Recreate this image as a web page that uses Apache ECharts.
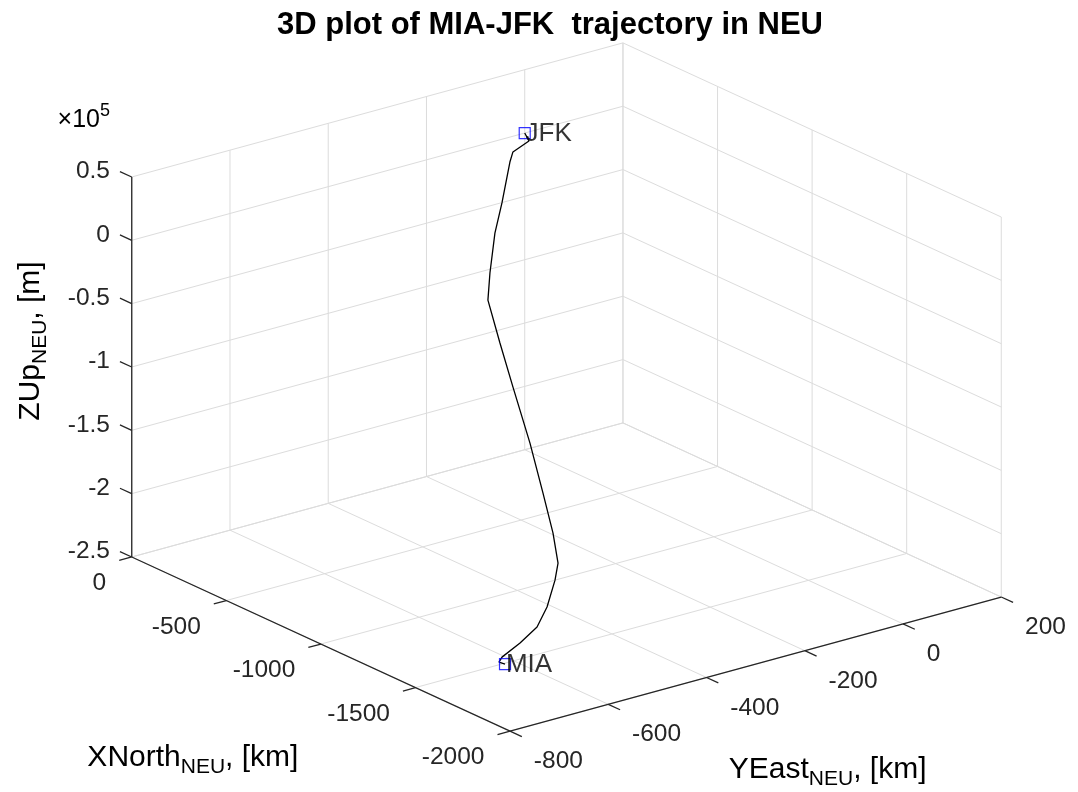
<!DOCTYPE html>
<html>
<head>
<meta charset="utf-8">
<script src="https://cdn.jsdelivr.net/npm/echarts@6/dist/echarts.min.js"></script>
<style>
  html, body { margin: 0; padding: 0; background: #ffffff; }
  #chart { width: 1078px; height: 792px; }
</style>
</head>
<body>
<div id="chart"></div>
<script>
// ---- Axis ticks (North / East in km, Up in units of 1e5 m) ----
const northTicks = [-2000, -1500, -1000, -500, 0];
const eastTicks = [-800, -600, -400, -200, 0, 200];
const upTicks = [-2.5, -2, -1.5, -1, -0.5, 0, 0.5];
const upTickLabels = ['-2.5', '-2', '-1.5', '-1', '-0.5', '0', '0.5'];

// ---- Flight track in the local NEU frame centred on JFK ----
const trackNorth = [-1612.7, -1602.9, -1597.8, -1594.5, -1585.2, -1560.1, -1517.9, -1489.2, -1421.1, -1321.4, -1189.2, -1026.9, -888.9, -743.0, -656.8, -520.0, -409.7, -198.0, -133.0, -70.6, 0];
const trackEast = [-661.1, -669.6, -661.5, -623.5, -585.3, -555.3, -522.8, -505.6, -489.6, -471.6, -447.2, -419.3, -392.7, -361.0, -323.7, -260.9, -204.1, -106.4, -75.2, -18.6, 0];
const trackUp = [-2.384, -2.366, -2.339, -2.270, -2.191, -2.082, -1.933, -1.836, -1.663, -1.435, -1.157, -0.856, -0.631, -0.426, -0.311, -0.156, -0.054, 0.020, 0.022, 0.006, 0];

// ---- Airports ----
const airportNames = ['MIA', 'JFK'];
const airportNorth = [-1612.7, 0];
const airportEast = [-661.1, 0];
const airportUp = [-2.384, 0];

// ---- View settings for the 3D box (orthographic) ----
const VIEW = { azimuth: 127.6, elevation: 20.76, aspect: [1, 1, 0.6555] };
const SCALE = 620;              // pixels per box unit
const CENTER = [566.5, 387];    // pixel position of the box centre
const WIDTH = 1078, HEIGHT = 792;
const TICK_PX = 13;             // tick mark length in pixels
const FONT = '"Liberation Sans", Arial, Helvetica, sans-serif';

const nMin = northTicks[0], nMax = northTicks[northTicks.length - 1];
const eMin = eastTicks[0], eMax = eastTicks[eastTicks.length - 1];
const uMin = upTicks[0], uMax = upTicks[upTicks.length - 1];

const azR = VIEW.azimuth * Math.PI / 180, elR = VIEW.elevation * Math.PI / 180;
const r1 = Math.cos(azR), r2 = Math.sin(azR), se = Math.sin(elR), ce = Math.cos(elR);

// data (north, east, up) -> projected plane (h, v)
function project(n, e, u) {
  const x = ((n - nMin) / (nMax - nMin) - 0.5) * VIEW.aspect[0];
  const y = ((e - eMin) / (eMax - eMin) - 0.5) * VIEW.aspect[1];
  const z = ((u - uMin) / (uMax - uMin) - 0.5) * VIEW.aspect[2];
  return [r1 * x + r2 * y, (r2 * x - r1 * y) * se + z * ce];
}
function axisPixelLength(dn, de, du) {
  const a = project(nMin, eMin, uMin), b = project(nMin + dn, eMin + de, uMin + du);
  return Math.hypot(b[0] - a[0], b[1] - a[1]) * SCALE;
}
// tick offsets expressed in data units so that each tick is TICK_PX long
const tickN = (nMax - nMin) * TICK_PX / axisPixelLength(nMax - nMin, 0, 0);
const tickE = (eMax - eMin) * TICK_PX / axisPixelLength(0, eMax - eMin, 0);

function seg(p, q) { const a = project(...p), b = project(...q); return [a[0], a[1], b[0], b[1]]; }

// ---- Grid lines on the floor and the two back walls ----
const gridSegs = [];
northTicks.forEach(n => gridSegs.push(seg([n, eMin, uMin], [n, eMax, uMin])));
eastTicks.forEach(e => gridSegs.push(seg([nMin, e, uMin], [nMax, e, uMin])));
eastTicks.forEach(e => gridSegs.push(seg([nMax, e, uMin], [nMax, e, uMax])));
upTicks.forEach(u => gridSegs.push(seg([nMax, eMin, u], [nMax, eMax, u])));
northTicks.forEach(n => gridSegs.push(seg([n, eMax, uMin], [n, eMax, uMax])));
upTicks.forEach(u => gridSegs.push(seg([nMin, eMax, u], [nMax, eMax, u])));

// ---- Axis lines and tick marks ----
const axisSegs = [];
axisSegs.push(seg([nMax, eMin, uMin], [nMin, eMin, uMin]));   // North axis
axisSegs.push(seg([nMin, eMin, uMin], [nMin, eMax, uMin]));   // East axis
axisSegs.push(seg([nMax, eMin, uMin], [nMax, eMin, uMax]));   // Up axis
northTicks.forEach(n => axisSegs.push(seg([n, eMin, uMin], [n, eMin - tickE, uMin])));
eastTicks.forEach(e => axisSegs.push(seg([nMin, e, uMin], [nMin - tickN, e, uMin])));
upTicks.forEach(u => axisSegs.push(seg([nMax, eMin, u], [nMax + tickN, eMin, u])));

// ---- Tick labels: [h, v, axis, index] ----
const tickLabelItems = [];
northTicks.forEach((n, i) => { const p = project(n, eMin - tickE, uMin); tickLabelItems.push([p[0], p[1], 0, i]); });
eastTicks.forEach((e, i) => { const p = project(nMin - tickN, e, uMin); tickLabelItems.push([p[0], p[1], 1, i]); });
upTicks.forEach((u, i) => { const p = project(nMax + tickN, eMin, u); tickLabelItems.push([p[0], p[1], 2, i]); });

const TICK_FONT = 24.5;
const tickLabelStyle = [
  { text: i => String(northTicks[i]), align: 'right', verticalAlign: 'middle', dx: -13, dy: 23 },
  { text: i => String(eastTicks[i]), align: 'left', verticalAlign: 'middle', dx: 12, dy: 25 },
  { text: i => upTickLabels[i], align: 'right', verticalAlign: 'middle', dx: -10, dy: 0 }
];

// ---- Axis titles anchored to the middle of each axis: [h, v, index] ----
const titleAnchors = [
  project((nMin + nMax) / 2, eMin, uMin),
  project(nMin, (eMin + eMax) / 2, uMin),
  project(nMax, eMin, (uMin + uMax) / 2),
  project(nMax, eMin, uMax)
];
const titleItems = titleAnchors.map((p, i) => [p[0], p[1], i]);
const LABEL_FONT = 30;
const richLabel = {
  m: { fontSize: LABEL_FONT, fontFamily: FONT, color: '#262626' },
  s: { fontSize: 21, fontFamily: FONT, color: '#262626', padding: [19, 0, 0, 0] },
  t: { fontSize: 25, fontFamily: FONT, color: '#262626' },
  p: { fontSize: 18, fontFamily: FONT, color: '#262626', padding: [0, 0, 18, 0] }
};
const axisTitles = [
  { text: '{m|XNorth}{s|NEU}{m|, [km]}', dx: -128, dy: 114, rotation: 0 },
  { text: '{m|YEast}{s|NEU}{m|, [km]}', dx: 72, dy: 106, rotation: 0 },
  { text: '{m|ZUp}{s|NEU}{m|, [m]}', dx: -101, dy: -26, rotation: Math.PI / 2 },
  { text: '{t|\u00d710}{p|5}', dx: -48, dy: -57, rotation: 0 }
];

function segmentRenderer(color, width) {
  return function (params, api) {
    const a = api.coord([api.value(0), api.value(1)]);
    const b = api.coord([api.value(2), api.value(3)]);
    return { type: 'line', shape: { x1: a[0], y1: a[1], x2: b[0], y2: b[1] },
             style: { stroke: color, lineWidth: width } };
  };
}

const chart = echarts.init(document.getElementById('chart'), null, { renderer: 'canvas' });
chart.setOption({
  animation: false,
  backgroundColor: '#ffffff',
  title: {
    text: '3D plot of MIA-JFK  trajectory in NEU',
    left: 545, top: 5, textAlign: 'center',
    textStyle: { fontFamily: FONT, fontWeight: 'bold', fontSize: 31, color: '#000000' }
  },
  grid: { left: 0, top: 0, width: WIDTH, height: HEIGHT },
  xAxis: { type: 'value', show: false, min: -CENTER[0] / SCALE, max: (WIDTH - CENTER[0]) / SCALE },
  yAxis: { type: 'value', show: false, min: -(HEIGHT - CENTER[1]) / SCALE, max: CENTER[1] / SCALE },
  series: [
    { type: 'custom', name: 'grid lines', data: gridSegs, renderItem: segmentRenderer('#dcdcdc', 1),
      clip: false, silent: true, z: 1 },
    { type: 'custom', name: 'axes', data: axisSegs, renderItem: segmentRenderer('#262626', 1.3),
      clip: false, silent: true, z: 2 },
    { type: 'line', name: 'trajectory', z: 3,
      data: trackNorth.map((n, i) => project(n, trackEast[i], trackUp[i])),
      showSymbol: false, symbol: 'none', lineStyle: { color: '#000000', width: 1.3 } },
    { type: 'scatter', name: 'airports', z: 4,
      data: airportNames.map((name, i) => ({ name, value: project(airportNorth[i], airportEast[i], airportUp[i]) })),
      symbol: 'rect', symbolSize: 11,
      itemStyle: { color: 'rgba(0,0,0,0)', borderColor: '#0000ff', borderWidth: 1.2 },
      label: { show: true, formatter: '{b}', position: [7, 7], align: 'left', verticalAlign: 'middle',
               fontFamily: FONT, fontSize: 26, color: '#000000' } },
    { type: 'custom', name: 'tick labels', data: tickLabelItems, clip: false, silent: true, z: 5,
      renderItem: function (params, api) {
        const p = api.coord([api.value(0), api.value(1)]);
        const st = tickLabelStyle[api.value(2)];
        return { type: 'text', x: p[0] + st.dx, y: p[1] + st.dy,
                 style: { text: st.text(api.value(3)), fontFamily: FONT, fontSize: TICK_FONT,
                          fill: '#262626', align: st.align, verticalAlign: st.verticalAlign } };
      } },
    { type: 'custom', name: 'axis titles', data: titleItems, clip: false, silent: true, z: 5,
      renderItem: function (params, api) {
        const p = api.coord([api.value(0), api.value(1)]);
        const t = axisTitles[api.value(2)];
        return { type: 'text', x: p[0] + t.dx, y: p[1] + t.dy, rotation: t.rotation,
                 style: { text: t.text, rich: richLabel, align: 'center', verticalAlign: 'middle' } };
      } }
  ]
});
</script>
</body>
</html>
